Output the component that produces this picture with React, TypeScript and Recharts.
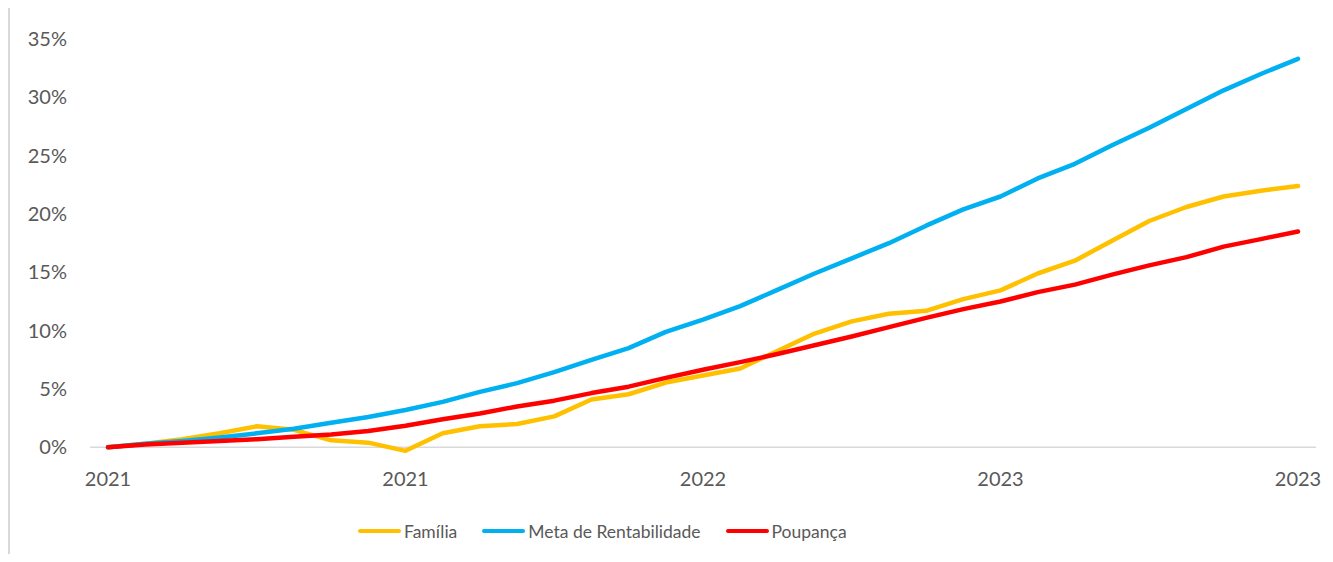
import { LineChart, Line, XAxis, YAxis, ReferenceLine } from 'recharts';

const months = [
  '2021-01', '2021-02', '2021-03', '2021-04', '2021-05', '2021-06', '2021-07', '2021-08', '2021-09',
  '2021-10', '2021-11', '2021-12', '2022-01', '2022-02', '2022-03', '2022-04', '2022-05', '2022-06',
  '2022-07', '2022-08', '2022-09', '2022-10', '2022-11', '2022-12', '2023-01', '2023-02', '2023-03',
  '2023-04', '2023-05', '2023-06', '2023-07', '2023-08', '2023-09',
];

const familia = [
  0, 0.3, 0.7, 1.2, 1.8, 1.5, 0.6, 0.4, -0.3, 1.2, 1.8, 2.0, 2.65, 4.1, 4.55, 5.55, 6.15,
  6.75, 8.25, 9.75, 10.8, 11.45, 11.7, 12.7, 13.45, 14.9, 16.0, 17.7, 19.4, 20.6, 21.5, 22.0, 22.4,
];

const meta = [
  0, 0.3, 0.55, 0.85, 1.2, 1.6, 2.1, 2.6, 3.2, 3.9, 4.75, 5.5, 6.45, 7.5, 8.5, 9.9, 10.95,
  12.1, 13.5, 14.9, 16.2, 17.5, 19.0, 20.4, 21.5, 23.05, 24.3, 25.9, 27.4, 29.0, 30.6, 32.0, 33.3,
];

const poupanca = [
  0, 0.25, 0.4, 0.55, 0.7, 0.9, 1.1, 1.4, 1.85, 2.4, 2.9, 3.5, 4.0, 4.65, 5.2, 5.95, 6.65,
  7.3, 8.0, 8.75, 9.5, 10.3, 11.1, 11.85, 12.5, 13.3, 13.95, 14.8, 15.6, 16.3, 17.2, 17.85, 18.5,
];

const xTicks = ['2021-01', '2021-09', '2022-05', '2023-01', '2023-09'];
const yTicks = [0, 5, 10, 15, 20, 25, 30, 35];

const series = [
  { key: 'familia', name: 'Família', color: '#FFC000' },
  { key: 'meta', name: 'Meta de Rentabilidade', color: '#00B0F0' },
  { key: 'poupanca', name: 'Poupança', color: '#FF0000' },
];

const data = months.map((m, i) => ({
  month: m,
  familia: familia[i],
  meta: meta[i],
  poupanca: poupanca[i],
}));

const font = 'Lato, "Noto Sans", sans-serif';
const tickStyle = { fill: '#595959', fontSize: 20, fontFamily: font };

export default function App() {
  return (
    <div style={{ position: 'relative', marginTop: -8, width: 1317, height: 554, background: '#fff' }}>
      <div style={{ position: 'absolute', left: 0, top: 0, width: 2, height: 554, background: '#d9d9d9' }} />
      <LineChart
        width={1317}
        height={554}
        data={data}
        margin={{ top: 39, right: 9, left: 22, bottom: 65 }}
      >
        <YAxis
          domain={[-1, 35]}
          ticks={yTicks}
          tickFormatter={(v: number) => `${v}%`}
          axisLine={false}
          tickLine={false}
          width={60}
          tickMargin={17}
          tick={tickStyle}
        />
        <XAxis
          dataKey="month"
          ticks={xTicks}
          interval={0}
          tickFormatter={(v: string) => v.slice(0, 4)}
          axisLine={false}
          tickLine={false}
          height={30}
          tickMargin={7}
          padding={{ left: 18, right: 18 }}
          tick={tickStyle}
        />
        <ReferenceLine y={0} stroke="#d9d9d9" strokeWidth={1.5} />
        {series.map((s) => (
          <Line
            key={s.key}
            type="linear"
            dataKey={s.key}
            name={s.name}
            stroke={s.color}
            strokeWidth={4.5}
            strokeLinecap="round"
            strokeLinejoin="round"
            dot={false}
            activeDot={false}
            isAnimationActive={false}
          />
        ))}
      </LineChart>

      {/* Legend */}
      <div
        style={{
          position: 'absolute',
          left: 350,
          top: 519,
          height: 24,
          display: 'flex',
          alignItems: 'center',
          gap: 25,
          fontFamily: font,
          fontSize: 17.5,
          color: '#595959',
        }}
      >
        {series.map((s) => (
          <div key={s.key} style={{ display: 'flex', alignItems: 'center', gap: 3 }}>
            <div style={{ width: 43, height: 4.5, borderRadius: 3, background: s.color }} />
            <span>{s.name}</span>
          </div>
        ))}
      </div>
    </div>
  );
}
